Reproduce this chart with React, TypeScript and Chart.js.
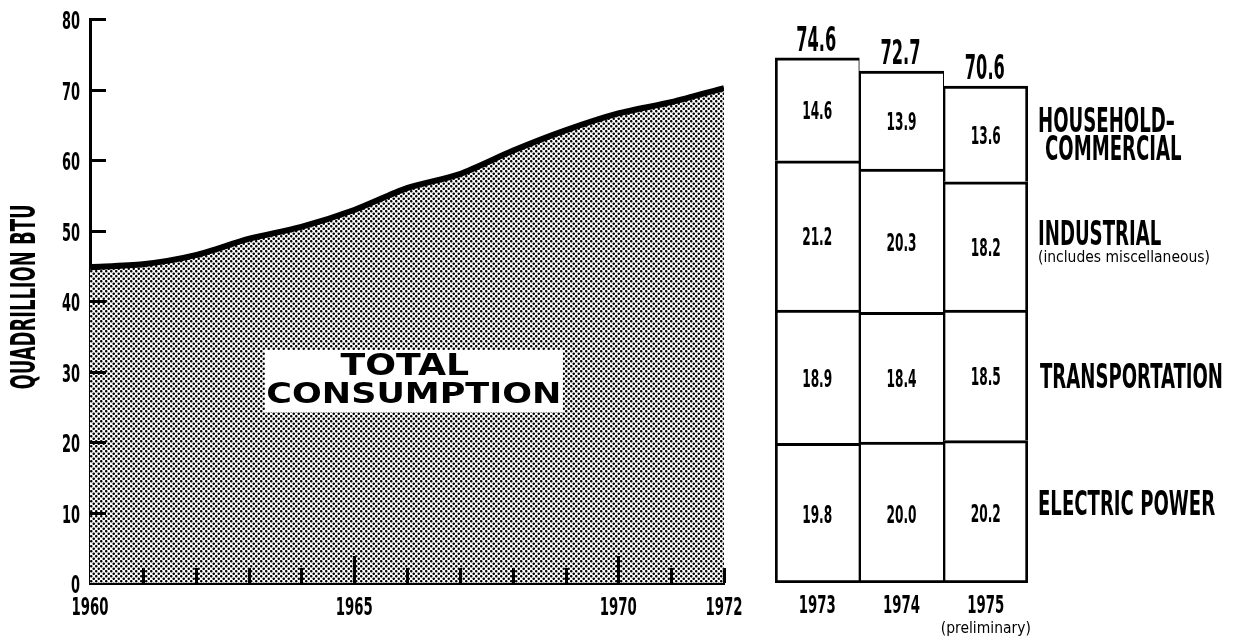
import React, { useEffect, useRef } from 'react';
import { Chart, registerables } from 'chart.js';

Chart.register(...registerables);

// ---------- data ----------
const YEARS = [1960, 1961, 1962, 1963, 1964, 1965, 1966, 1967, 1968, 1969, 1970, 1971, 1972];
const TOTAL_CONSUMPTION = [44.8, 45.2, 46.5, 48.8, 50.5, 52.9, 56.0, 58.0, 61.3, 64.2, 66.6, 68.2, 70.2];
const Y_TICKS = [0, 10, 20, 30, 40, 50, 60, 70, 80];
const X_LABEL_YEARS = [1960, 1965, 1970, 1972];
const MAJOR_TICK_YEARS = [1965, 1970];
const Y_TITLE = 'QUADRILLION BTU';
const AREA_LABEL = ['TOTAL', 'CONSUMPTION'];

const BAR_YEARS = ['1973', '1974', '1975'];
const BAR_NOTES = ['', '', '(preliminary)'];
const ELECTRIC_POWER = [19.8, 20.0, 20.2];
const TRANSPORTATION = [18.9, 18.4, 18.5];
const INDUSTRIAL = [21.2, 20.3, 18.2];
const HOUSEHOLD_COMMERCIAL = [14.6, 13.9, 13.6];
const BAR_TOTALS = [74.6, 72.7, 70.6];
const SECTOR_NAMES = [
  ['ELECTRIC POWER'],
  ['TRANSPORTATION'],
  ['INDUSTRIAL', '(includes miscellaneous)'],
  ['HOUSEHOLD\u2013', 'COMMERCIAL'],
];

// ---------- styling ----------
const NARROW = "'Liberation Sans Narrow', 'DejaVu Sans Condensed', 'Liberation Sans', sans-serif";
const WIDE = "'DejaVu Sans', 'Liberation Sans', sans-serif";

function calib(ctx: CanvasRenderingContext2D, sample: string, size: number, weight: string, family: string, target: number) {
  ctx.save();
  ctx.font = `${weight} ${size}px ${family}`;
  const w = ctx.measureText(sample).width;
  ctx.restore();
  return w > 0 ? target / w : 1;
}

function drawText(
  ctx: CanvasRenderingContext2D,
  text: string,
  x: number,
  yCenter: number,
  size: number,
  weight: string,
  family: string,
  sx: number,
  align: CanvasTextAlign,
  capRatio = 0.36,
  rotate = 0
) {
  ctx.save();
  ctx.font = `${weight} ${size}px ${family}`;
  ctx.textAlign = align;
  ctx.textBaseline = 'alphabetic';
  ctx.fillStyle = '#000';
  ctx.translate(x, yCenter);
  if (rotate) ctx.rotate(rotate);
  ctx.translate(0, size * capRatio);
  ctx.scale(sx, 1);
  ctx.fillText(text, 0, 0);
  ctx.restore();
}

const leftPlugin = {
  id: 'leftDecor',
  afterDraw(chart: any) {
    const ctx: CanvasRenderingContext2D = chart.ctx;
    const xs = chart.scales.x;
    const ys = chart.scales.y;
    const area = chart.chartArea;

    // label box
    const cx = xs.getPixelForValue(1966.13);
    const cy = ys.getPixelForValue(28.65);
    ctx.save();
    ctx.fillStyle = '#fff';
    ctx.fillRect(cx - 149, cy - 31, 298, 62);
    ctx.restore();
    const sxA = calib(ctx, AREA_LABEL[1], 29, 'bold', WIDE, 295);
    drawText(ctx, AREA_LABEL[0], cx - 9, cy - 17, 30, 'bold', WIDE, sxA, 'center');
    drawText(ctx, AREA_LABEL[1], cx, cy + 11.5, 29, 'bold', WIDE, sxA, 'center');

    // inside ticks
    ctx.save();
    ctx.strokeStyle = '#000';
    ctx.lineWidth = 3;
    ctx.beginPath();
    Y_TICKS.forEach((v) => {
      if (v === 0) return;
      const y = Math.round(ys.getPixelForValue(v)) + 0.5;
      ctx.moveTo(area.left, y);
      ctx.lineTo(area.left + 16, y);
    });
    YEARS.forEach((yr) => {
      if (yr === YEARS[0]) return;
      const x = Math.round(xs.getPixelForValue(yr)) + 0.5;
      const len = MAJOR_TICK_YEARS.includes(yr) ? 27 : 15;
      ctx.moveTo(x, area.bottom);
      ctx.lineTo(x, area.bottom - len);
    });
    ctx.stroke();
    ctx.restore();

    // tick labels (condensed) from the scales' own ticks
    const sxY = calib(ctx, '80', 25, 'bold', NARROW, 18);
    ys.ticks.forEach((t: any) => {
      drawText(ctx, String(t.value), area.left - 10, ys.getPixelForValue(t.value) + 1, 25, 'bold', NARROW, sxY, 'right');
    });
    const sxX = calib(ctx, '1960', 25, 'bold', NARROW, 37);
    xs.ticks.forEach((t: any) => {
      drawText(ctx, String(t.value), xs.getPixelForValue(t.value), area.bottom + 23, 25, 'bold', NARROW, sxX, 'center');
    });

    // axis title
    const sxT = calib(ctx, Y_TITLE, 33, 'bold', NARROW, 185);
    drawText(ctx, Y_TITLE, 23, (area.top + area.bottom) / 2 - 4, 33, 'bold', NARROW, sxT, 'center', 0.36, -Math.PI / 2);
  },
};

const SERIES = [ELECTRIC_POWER, TRANSPORTATION, INDUSTRIAL, HOUSEHOLD_COMMERCIAL];

const rightPlugin = {
  id: 'rightDecor',
  afterDraw(chart: any) {
    const ctx: CanvasRenderingContext2D = chart.ctx;
    const area = chart.chartArea;
    const xs = chart.scales.x;

    const sxVal = calib(ctx, '14.6', 25, 'bold', NARROW, 30);
    const sxTot = calib(ctx, '74.6', 33, 'bold', NARROW, 40);
    const sxSec = calib(ctx, 'TRANSPORTATION', 34, 'bold', NARROW, 183);
    const sxNote = calib(ctx, '(includes miscellaneous)', 16, 'normal', NARROW, 172);
    const sxX = calib(ctx, '1960', 25, 'bold', NARROW, 37);

    // segment values
    SERIES.forEach((vals, di) => {
      const meta = chart.getDatasetMeta(di);
      meta.data.forEach((el: any, j: number) => {
        drawText(ctx, vals[j].toFixed(1), el.x, (el.y + el.base) / 2 + 1, 25, 'bold', NARROW, sxVal, 'center');
      });
    });

    // totals
    const topMeta = chart.getDatasetMeta(SERIES.length - 1);
    topMeta.data.forEach((el: any, j: number) => {
      drawText(ctx, BAR_TOTALS[j].toFixed(1), el.x - 1, el.y - 19, 33, 'bold', NARROW, sxTot, 'center');
    });

    // sector names beside last bar
    const last = BAR_YEARS.length - 1;
    const lx = area.right + 10;
    SERIES.forEach((_, di) => {
      const el: any = chart.getDatasetMeta(di).data[last];
      const c = (el.y + el.base) / 2;
      const names = SECTOR_NAMES[di];
      if (di === 0) {
        drawText(ctx, names[0], lx, c - 9, 34, 'bold', NARROW, sxSec, 'left');
      } else if (di === 1) {
        drawText(ctx, names[0], lx + 2, c, 34, 'bold', NARROW, sxSec, 'left');
      } else if (di === 2) {
        drawText(ctx, names[0], lx, c - 13, 34, 'bold', NARROW, sxSec, 'left');
        drawText(ctx, names[1], lx, c + 11, 16, 'normal', NARROW, sxNote, 'left', 0.3);
      } else {
        drawText(ctx, names[0], lx, c - 14, 34, 'bold', NARROW, sxSec, 'left');
        drawText(ctx, names[1], lx + 7, c + 14, 34, 'bold', NARROW, sxSec, 'left');
      }
    });

    // year labels from the category scale, and notes
    xs.ticks.forEach((t: any) => {
      const x = xs.getPixelForValue(t.value);
      drawText(ctx, String(chart.data.labels[t.value]), x, area.bottom + 21, 25, 'bold', NARROW, sxX, 'center');
      const note = BAR_NOTES[t.value];
      if (note) drawText(ctx, note, x, area.bottom + 45, 16, 'normal', NARROW, sxNote, 'center', 0.3);
    });
  },
};

export default function App() {
  const leftRef = useRef<HTMLCanvasElement>(null);
  const rightRef = useRef<HTMLCanvasElement>(null);

  useEffect(() => {
    const c1 = leftRef.current!;
    const c2 = rightRef.current!;

    // halftone pattern
    const pc = document.createElement('canvas');
    pc.width = 5;
    pc.height = 5;
    const pctx = pc.getContext('2d')!;
    pctx.fillStyle = '#fff';
    pctx.fillRect(0, 0, 5, 5);
    pctx.fillStyle = '#000';
    const dots = [
      [1.25, 1.25],
      [3.75, 3.75],
      [3.75 - 5, 3.75],
      [3.75, 3.75 - 5],
      [3.75 - 5, 3.75 - 5],
      [1.25 + 5, 1.25],
      [1.25, 1.25 + 5],
    ];
    dots.forEach(([x, y]) => {
      pctx.beginPath();
      pctx.arc(x, y, 1.28, 0, Math.PI * 2);
      pctx.fill();
    });
    const pattern = c1.getContext('2d')!.createPattern(pc, 'repeat');

    const left = new Chart(c1, {
      type: 'line',
      data: {
        datasets: [
          {
            label: 'Total consumption',
            data: YEARS.map((y, i) => ({ x: y, y: TOTAL_CONSUMPTION[i] })),
            borderColor: '#000',
            borderWidth: 6,
            backgroundColor: pattern as any,
            fill: 'origin',
            tension: 0.25,
            pointRadius: 0,
          },
        ],
      },
      options: {
        animation: false,
        responsive: false,
        events: [],
        layout: { padding: { left: 0, top: 19, right: 515, bottom: 0 } },
        plugins: { legend: { display: false }, tooltip: { enabled: false } },
        scales: {
          x: {
            type: 'linear',
            min: YEARS[0],
            max: YEARS[YEARS.length - 1],
            z: 1,
            grid: { display: false },
            border: { display: true, color: '#000', width: 3 },
            afterBuildTicks: (s: any) => {
              s.ticks = X_LABEL_YEARS.map((v) => ({ value: v }));
            },
            afterFit: (s: any) => {
              s.height = 58;
            },
            ticks: { display: false },
          },
          y: {
            min: 0,
            max: 80,
            z: 1,
            grid: { display: false },
            border: { display: true, color: '#000', width: 3 },
            afterBuildTicks: (s: any) => {
              s.ticks = Y_TICKS.map((v) => ({ value: v }));
            },
            afterFit: (s: any) => {
              s.width = 90;
            },
            ticks: { display: false },
          },
        },
      },
      plugins: [leftPlugin],
    });

    const right = new Chart(c2, {
      type: 'bar',
      data: {
        labels: BAR_YEARS,
        datasets: SERIES.map((d, i) => ({
          label: SECTOR_NAMES[i][0],
          data: d,
          backgroundColor: '#fff',
          borderColor: '#000',
          borderSkipped: false,
          borderWidth: (c: any) => ({
            top: 3,
            bottom: c.datasetIndex === 0 ? 3 : 0,
            left: c.dataIndex === 0 ? 3 : 2,
            right: c.dataIndex === BAR_YEARS.length - 1 ? 3 : 1,
          }),
          categoryPercentage: 1,
          barPercentage: 1,
        })),
      },
      options: {
        animation: false,
        responsive: false,
        events: [],
        layout: { padding: { left: 775, right: 211, top: 19, bottom: 0 } },
        plugins: { legend: { display: false }, tooltip: { enabled: false } },
        scales: {
          x: {
            stacked: true,
            grid: { display: false },
            border: { display: false },
            afterFit: (s: any) => {
              s.height = 58;
            },
            ticks: { display: false },
          },
          y: { stacked: true, display: false, min: 0, max: 80 },
        },
      },
      plugins: [rightPlugin],
    });

    return () => {
      left.destroy();
      right.destroy();
    };
  }, []);

  const cs: React.CSSProperties = { position: 'absolute', left: 0, top: 0, width: 1239, height: 641 };
  return (
    <div style={{ position: 'fixed', left: 0, top: 0, width: 1239, height: 641, background: '#fff' }}>
      <canvas ref={leftRef} width={1239} height={641} style={cs} />
      <canvas ref={rightRef} width={1239} height={641} style={cs} />
    </div>
  );
}
